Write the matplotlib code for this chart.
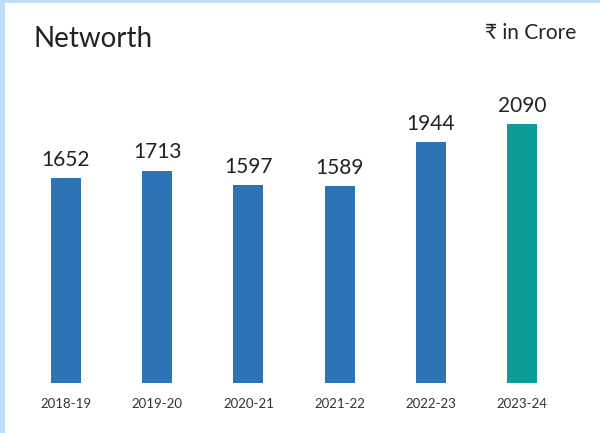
import matplotlib
matplotlib.use("Agg")
import matplotlib.pyplot as plt
from matplotlib.patches import Rectangle

years = ["2018-19", "2019-20", "2020-21", "2021-22", "2022-23", "2023-24"]
networth = [1652, 1713, 1597, 1589, 1944, 2090]
bar_colors = ["#2E74B5", "#2E74B5", "#2E74B5", "#2E74B5", "#2E74B5", "#0C9B96"]

plt.rcParams['font.family'] = ['Lato', 'DejaVu Sans']

fig = plt.figure(figsize=(6.0, 4.33), dpi=100)
fig.patch.set_facecolor("#BEDCF3")
fig.patches.append(Rectangle((5/600, 0), 1, 1 - 3/433, transform=fig.transFigure,
                             facecolor="white", edgecolor="none", zorder=-5))

ax = fig.add_axes([20.4/600, 50/433, (567.6-20.4)/600, (383-100)/433])
ax.set_zorder(5)
ax.set_facecolor("none")
x = range(len(years))
bars = ax.bar(x, networth, width=0.33, color=bar_colors)
ax.set_xlim(-0.5, len(years) - 0.5)
ax.set_ylim(0, 2284)
for b, v in zip(bars, networth):
    ax.annotate(f"{v}", (b.get_x() + b.get_width()/2, v), xytext=(0, 6),
                textcoords="offset points", ha="center", va="bottom",
                fontsize=15, color="#222222")
ax.set_xticks(list(x))
ax.set_xticklabels(years, fontsize=9.5, color="#333333")
ax.tick_params(axis="x", length=0, pad=10.5)
ax.set_yticks([])
for s in ax.spines.values():
    s.set_visible(False)

fig.text(34/600, 1 - 47/433, "Networth", fontsize=20, color="#222222",
         ha="left", va="baseline", zorder=6)
fig.text(576/600, 1 - 39/433, "₹ in Crore", fontsize=15, color="#222222",
         ha="right", va="baseline", zorder=6)

fig.savefig("out.png", dpi=100, facecolor=fig.get_facecolor())
